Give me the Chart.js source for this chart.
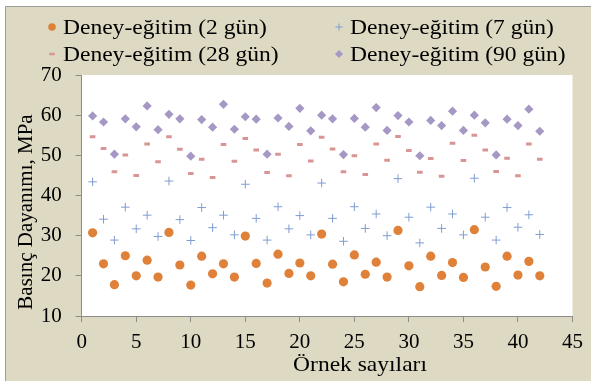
<!DOCTYPE html>
<html>
<head>
<meta charset="utf-8">
<script src="https://cdn.jsdelivr.net/npm/chart.js@4.4.1/dist/chart.umd.min.js"></script>
<style>
  html, body { margin: 0; padding: 0; background: #fff; }
  canvas { display: block; }
</style>
</head>
<body>
<canvas id="scatterChart" width="591" height="381"></canvas>
<script>
// sample numbers (x)
const samples = [1, 2, 3, 4, 5, 6, 7, 8, 9, 10, 11, 12, 13, 14, 15, 16, 17, 18, 19, 20, 21,
  22, 23, 24, 25, 26, 27, 28, 29, 30, 31, 32, 33, 34, 35, 36, 37, 38, 39, 40, 41, 42];

const labels = ["Deney-eğitim (2 gün)", "Deney-eğitim (7 gün)", "Deney-eğitim (28 gün)", "Deney-eğitim (90 gün)"];

const day2 = [30.7, 23.0, 17.8, 25.0, 20.0, 23.9, 19.7, 30.8, 22.7, 17.7, 24.9, 20.5, 23.0, 19.7,
  29.9, 23.1, 18.2, 25.4, 20.6, 23.2, 20.0, 30.4, 22.9, 18.5, 25.2, 20.4, 23.4, 19.7,
  31.3, 22.5, 17.3, 24.9, 20.1, 23.3, 19.6, 31.5, 22.2, 17.4, 24.9, 20.2, 23.6, 20.0];
const day7 = [43.4, 34.1, 28.9, 37.1, 31.7, 35.1, 29.8, 43.6, 34.0, 28.8, 37.0, 32.0, 35.1, 30.2,
  42.8, 34.3, 28.9, 37.2, 31.7, 35.0, 30.2, 43.1, 34.3, 28.6, 37.2, 31.8, 35.4, 30.0,
  44.2, 34.6, 28.2, 37.1, 31.8, 35.4, 30.2, 44.3, 34.6, 28.9, 37.0, 32.1, 35.2, 30.3];
const day28 = [54.6, 51.7, 45.9, 50.1, 45.0, 52.8, 48.4, 54.6, 51.5, 45.5, 49.0, 44.5, 52.7, 48.5,
  54.2, 51.3, 45.7, 50.3, 44.9, 52.7, 48.6, 54.5, 51.6, 45.9, 49.9, 45.2, 52.8, 48.8,
  54.7, 51.2, 45.8, 49.2, 44.8, 53.0, 48.7, 55.0, 51.3, 46.0, 49.3, 44.9, 52.8, 49.0];
const day90 = [59.8, 58.3, 50.3, 59.1, 57.1, 62.3, 56.4, 60.2, 59.1, 49.8, 58.9, 57.0, 62.7, 56.5,
  59.6, 59.0, 50.3, 59.3, 57.2, 61.7, 56.1, 60.0, 59.1, 50.2, 59.2, 57.0, 61.9, 56.2,
  59.9, 58.3, 49.9, 58.7, 57.4, 61.0, 56.2, 60.0, 58.1, 50.1, 59.0, 57.4, 61.5, 56.0];

const xTitle = "Örnek sayıları";
const yTitle = "Basınç Dayanımı, MPa";

const FONT = "'Liberation Serif', 'Times New Roman', serif";
const BEIGE = "#ddd9c3";
const STRETCH = 1.12; // the source text looks a bit wider than plain Times

function pts(ys) {
  return samples.map((x, i) => ({ x: x, y: ys[i] }));
}

const datasets = [
  { label: labels[0], data: pts(day2), pointStyle: "circle", pointRadius: 4.6,
    backgroundColor: "#e0813a", borderColor: "#e0813a", borderWidth: 0 },
  { label: labels[1], data: pts(day7), pointStyle: "cross", pointRadius: 4.3,
    backgroundColor: "#7f9dd1", borderColor: "#7f9dd1", borderWidth: 1 },
  { label: labels[2], data: pts(day28), pointStyle: "line", pointRadius: 2.8,
    backgroundColor: "#d99594", borderColor: "#d99594", borderWidth: 3 },
  { label: labels[3], data: pts(day90), pointStyle: "rectRot", pointRadius: 4.6,
    backgroundColor: "#a598c5", borderColor: "#a598c5", borderWidth: 0 },
];

function wideText(ctx, txt, x, y, align) {
  ctx.save();
  ctx.translate(x, y);
  ctx.scale(STRETCH, 1);
  ctx.textAlign = align;
  ctx.fillText(txt, 0, 0);
  ctx.restore();
}

// frame, white plot area, legend and axis titles
const decor = {
  id: "decor",
  beforeDraw(chart) {
    const { ctx, chartArea: a } = chart;
    ctx.save();
    ctx.fillStyle = "#fff";
    ctx.fillRect(0, 0, chart.width, chart.height);
    ctx.fillStyle = BEIGE;
    ctx.fillRect(6, 7, chart.width - 6, chart.height - 7);
    ctx.strokeStyle = "#9c9c9c";
    ctx.lineWidth = 1;
    ctx.beginPath();
    ctx.moveTo(5.5, chart.height);
    ctx.lineTo(5.5, 6.5);
    ctx.lineTo(chart.width, 6.5);
    ctx.stroke();
    ctx.fillStyle = "#fff";
    ctx.fillRect(a.left, a.top, a.right - a.left, a.bottom - a.top);
    ctx.restore();
  },
  afterDraw(chart) {
    const { ctx } = chart;
    ctx.save();
    ctx.fillStyle = "#000";
    ctx.font = "21px " + FONT;
    ctx.textBaseline = "middle";
    const pos = [[52, 27], [339, 27], [52, 54], [339, 54]];
    chart.data.datasets.forEach((ds, i) => {
      const [mx, my] = pos[i];
      ctx.fillStyle = ds.backgroundColor;
      ctx.strokeStyle = ds.borderColor;
      ctx.beginPath();
      if (ds.pointStyle === "circle") {
        ctx.arc(mx, my, 3.8, 0, Math.PI * 2);
        ctx.fill();
      } else if (ds.pointStyle === "cross") {
        ctx.lineWidth = 1;
        ctx.moveTo(mx - 3.5, my); ctx.lineTo(mx + 3.5, my);
        ctx.moveTo(mx, my - 3.5); ctx.lineTo(mx, my + 3.5);
        ctx.stroke();
      } else if (ds.pointStyle === "line") {
        ctx.lineWidth = 2.5;
        ctx.moveTo(mx - 2.8, my); ctx.lineTo(mx + 2.8, my);
        ctx.stroke();
      } else {
        ctx.moveTo(mx - 4, my); ctx.lineTo(mx, my - 4);
        ctx.lineTo(mx + 4, my); ctx.lineTo(mx, my + 4);
        ctx.closePath();
        ctx.fill();
      }
      ctx.fillStyle = "#000";
      wideText(ctx, ds.label, mx + 11, my + 1, "left");
    });
    // axis titles
    ctx.textBaseline = "alphabetic";
    wideText(ctx, xTitle, 360, 371, "center");
    ctx.textAlign = "center";
    ctx.translate(32, 212);
    ctx.rotate(-Math.PI / 2);
    ctx.fillText(yTitle, 0, 0);
    ctx.restore();
  },
};

new Chart(document.getElementById("scatterChart"), {
  type: "scatter",
  data: { datasets: datasets },
  plugins: [decor],
  options: {
    responsive: false,
    animation: false,
    layout: { padding: { left: 0, top: 75, right: 14.3, bottom: 0 } },
    plugins: { legend: { display: false }, tooltip: { enabled: false } },
    scales: {
      x: {
        type: "linear",
        min: 0,
        max: 45,
        afterFit: (s) => { s.height = 65; },
        ticks: { stepSize: 5, color: "#000", padding: 8, maxRotation: 0,
          font: { family: FONT, size: 21 } },
        grid: { drawOnChartArea: false, drawTicks: true, tickLength: 6, color: "#8c8c8c" },
        border: { color: "#8c8c8c" },
      },
      y: {
        min: 10,
        max: 70,
        afterFit: (s) => { s.width = 81.7; },
        ticks: { stepSize: 10, color: "#000", padding: 14,
          font: { family: FONT, size: 21 } },
        grid: { drawOnChartArea: false, drawTicks: true, tickLength: 6, color: "#8c8c8c" },
        border: { color: "#8c8c8c" },
      },
    },
  },
});
</script>
</body>
</html>
